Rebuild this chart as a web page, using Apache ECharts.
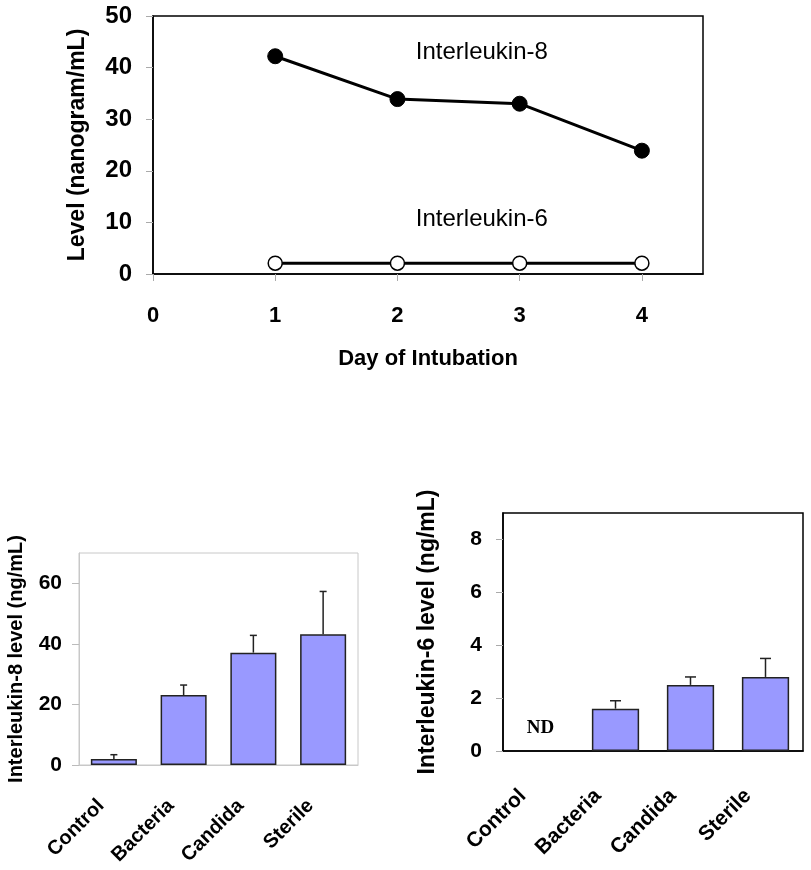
<!DOCTYPE html>
<html><head><meta charset="utf-8">
<script src="https://cdn.jsdelivr.net/npm/echarts@6/dist/echarts.min.js"></script>
<style>html,body{margin:0;padding:0;background:#fff}#c{width:811px;height:870px}</style>
</head><body><div id="c"></div>
<script>
// ---- data ----
const days = [1, 2, 3, 4];
const il8ByDay = [42.2, 33.9, 33.0, 23.9];
const il6ByDay = [2.1, 2.1, 2.1, 2.1];
const dayTicks = [0, 1, 2, 3, 4];
const levelTicks = [0, 10, 20, 30, 40, 50];
const groups = ['Control', 'Bacteria', 'Candida', 'Sterile'];
const il8Mean = [2.0, 23.1, 37.1, 43.2];
const il8Upper = [3.4, 26.4, 42.8, 57.3];
const il8Ticks = [0, 20, 40, 60];
const il6Mean = [null, 1.6, 2.5, 2.8];
const il6Upper = [null, 1.9, 2.8, 3.5];
const il6Ticks = [0, 2, 4, 6, 8];

const FONT = '"Liberation Sans", Arial, sans-serif';
const bold = (size) => ({ fontFamily: FONT, fontWeight: 'bold', fontSize: size, color: '#000' });

function errSeries(xi, yi, means, uppers, half) {
  return {
    type: 'custom', xAxisIndex: xi, yAxisIndex: yi, z: 5, silent: true,
    encode: { x: 0, y: [1, 2] },
    data: means.map((m, i) => [i, m, uppers[i]]).filter(d => d[1] != null),
    renderItem: (params, api) => {
      const x = api.value(0);
      const p0 = api.coord([x, api.value(1)]);
      const p1 = api.coord([x, api.value(2)]);
      const st = { stroke: '#222', lineWidth: 1.5 };
      return { type: 'group', children: [
        { type: 'line', shape: { x1: p0[0], y1: p0[1], x2: p1[0], y2: p1[1] }, style: st },
        { type: 'line', shape: { x1: p1[0] - half, y1: p1[1], x2: p1[0] + half, y2: p1[1] }, style: st }
      ] };
    }
  };
}

const chart = echarts.init(document.getElementById('c'), null, { renderer: 'canvas' });
const option = {
  animation: false,
  backgroundColor: '#fff',
  grid: [
    { left: 153, top: 16, width: 550, height: 258, show: true, borderColor: '#000', borderWidth: 1.5, backgroundColor: 'transparent' },
    { left: 79, top: 553, width: 279, height: 212, show: true, borderColor: '#c8c8c8', borderWidth: 1, backgroundColor: 'transparent' },
    { left: 503, top: 513, width: 300, height: 238, show: true, borderColor: '#000', borderWidth: 1.5, backgroundColor: 'transparent' }
  ],
  xAxis: [
    { gridIndex: 0, type: 'value', min: 0, max: 4.5, interval: 1,
      axisLine: { show: true, lineStyle: { color: '#000', width: 1.5 } },
      axisTick: { show: true, length: 7, customValues: dayTicks, lineStyle: { color: '#aaa' } },
      axisLabel: { customValues: dayTicks, margin: 31, ...bold(22) },
      splitLine: { show: false },
      name: 'Day of Intubation', nameLocation: 'middle', nameGap: 74, nameTextStyle: bold(22) },
    { gridIndex: 1, type: 'category', data: groups,
      axisLine: { show: true, lineStyle: { color: '#c8c8c8', width: 1 } },
      axisTick: { show: false },
      axisLabel: { rotate: 45, margin: 25, padding: [0, 18, 0, 0], interval: 0, ...bold(20) } },
    { gridIndex: 2, type: 'category', data: groups,
      axisLine: { show: true, lineStyle: { color: '#000', width: 1.5 } },
      axisTick: { show: false },
      axisLabel: { rotate: 45, margin: 24, padding: [0, 25, 0, 0], interval: 0, ...bold(21) } }
  ],
  yAxis: [
    { gridIndex: 0, type: 'value', min: 0, max: 50, interval: 10,
      axisLine: { show: true, lineStyle: { color: '#000', width: 1.5 } },
      axisTick: { show: true, length: 7, customValues: levelTicks, lineStyle: { color: '#aaa' } },
      axisLabel: { customValues: levelTicks, margin: 21, ...bold(24) },
      splitLine: { show: false },
      name: 'Level (nanogram/mL)', nameLocation: 'middle', nameGap: 64, nameTextStyle: bold(23) },
    { gridIndex: 1, type: 'value', min: 0, max: 70, interval: 20,
      axisLine: { show: true, lineStyle: { color: '#c8c8c8', width: 1 } },
      axisTick: { show: true, length: 7, customValues: il8Ticks, lineStyle: { color: '#bbb' } },
      axisLabel: { customValues: il8Ticks, margin: 17, ...bold(21) },
      splitLine: { show: false },
      name: 'Interleukin-8 level (ng/mL)', nameLocation: 'middle', nameGap: 53, nameTextStyle: bold(20) },
    { gridIndex: 2, type: 'value', min: 0, max: 9, interval: 2,
      axisLine: { show: true, lineStyle: { color: '#000', width: 1.5 } },
      axisTick: { show: true, length: 7, customValues: il6Ticks, lineStyle: { color: '#aaa' } },
      axisLabel: { customValues: il6Ticks, margin: 21, ...bold(21) },
      splitLine: { show: false },
      name: 'Interleukin-6 level (ng/mL)', nameLocation: 'middle', nameGap: 64, nameTextStyle: bold(23) }
  ],
  series: [
    { type: 'line', xAxisIndex: 0, yAxisIndex: 0, name: 'Interleukin-8',
      data: days.map((d, i) => [d, il8ByDay[i]]),
      symbol: 'circle', symbolSize: 15,
      lineStyle: { color: '#000', width: 3 },
      itemStyle: { color: '#000', borderColor: '#000', borderWidth: 1 },
      markPoint: { symbol: 'circle', symbolSize: 0, silent: true,
        data: [{ coord: [2.15, 43], label: { show: true, position: 'right', distance: 0, formatter: 'Interleukin-8',
          fontFamily: FONT, fontSize: 24, color: '#000' } }] } },
    { type: 'line', xAxisIndex: 0, yAxisIndex: 0, name: 'Interleukin-6',
      data: days.map((d, i) => [d, il6ByDay[i]]),
      symbol: 'circle', symbolSize: 14,
      lineStyle: { color: '#000', width: 3 },
      itemStyle: { color: '#fff', borderColor: '#000', borderWidth: 1.5 },
      markPoint: { symbol: 'circle', symbolSize: 0, silent: true,
        data: [{ coord: [2.15, 10.5], label: { show: true, position: 'right', distance: 0, formatter: 'Interleukin-6',
          fontFamily: FONT, fontSize: 24, color: '#000' } }] } },
    { type: 'bar', xAxisIndex: 1, yAxisIndex: 1, data: il8Mean, barWidth: '66%',
      itemStyle: { color: '#9999ff', borderColor: '#222', borderWidth: 1.5 } },
    errSeries(1, 1, il8Mean, il8Upper, 3.5),
    { type: 'bar', xAxisIndex: 2, yAxisIndex: 2, data: il6Mean, barWidth: '63%',
      itemStyle: { color: '#9999ff', borderColor: '#222', borderWidth: 1.5 },
      markPoint: { symbol: 'circle', symbolSize: 0, silent: true,
        data: [{ coord: ['Control', 0.87], label: { show: true, position: 'inside', formatter: 'ND',
          fontFamily: '"Liberation Serif", "Times New Roman", serif', fontWeight: 'bold', fontSize: 19, color: '#000' } }] } },
    errSeries(2, 2, il6Mean, il6Upper, 5.5)
  ]
};
chart.setOption(option);
</script>
</body></html>
